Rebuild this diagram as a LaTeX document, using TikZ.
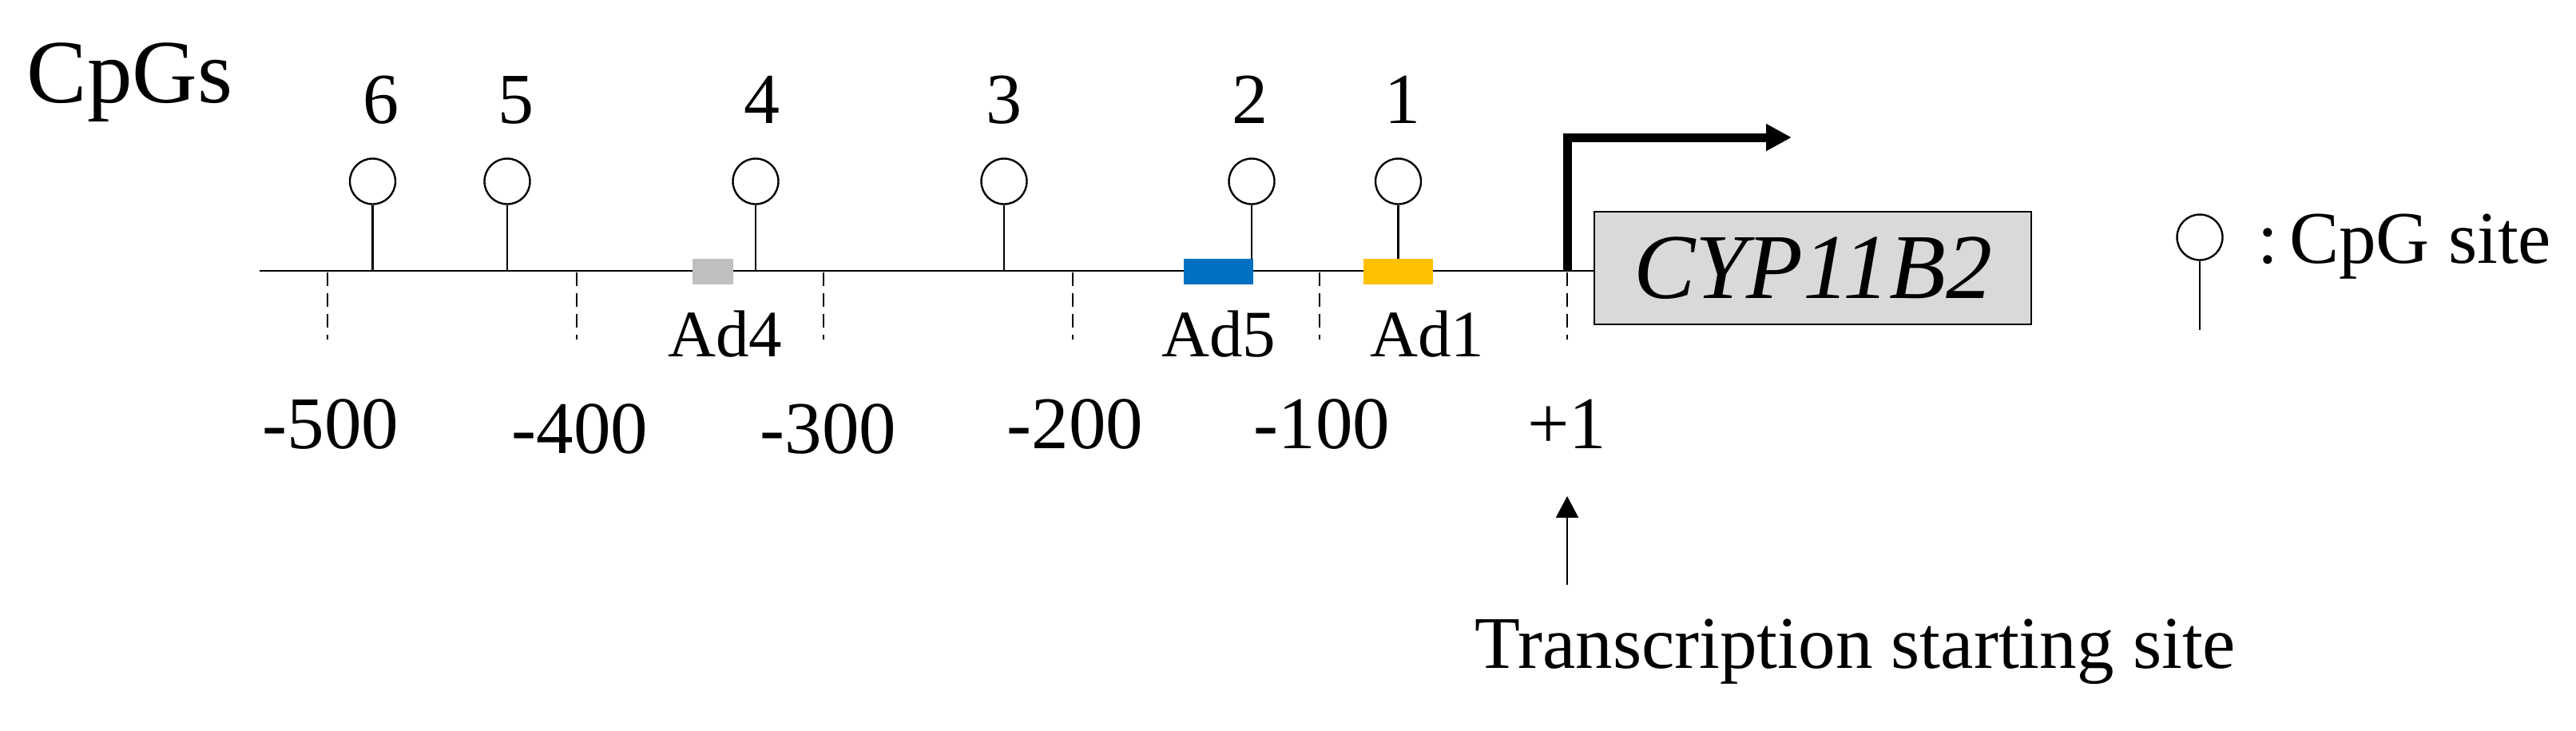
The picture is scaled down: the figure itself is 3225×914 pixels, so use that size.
\documentclass[tikz,border=0pt]{standalone}
\usepackage{fontspec}
\setmainfont{Liberation Serif}
\usetikzlibrary{arrows.meta}
\definecolor{adgray}{HTML}{BFBFBF}
\definecolor{adblue}{HTML}{0070C0}
\definecolor{adyellow}{HTML}{FFC000}
\definecolor{genegray}{HTML}{D9D9D9}
\begin{document}
\begin{tikzpicture}[x=0.25pt,y=-0.25pt,
  thinline/.style={line width=0.6pt},
  cpg/.style={circle, draw, line width=0.6pt, minimum size=14.25pt, inner sep=0pt},
  num/.style={font=\fontsize{22.5}{24}\selectfont, anchor=base, inner sep=0pt},
  poslabel/.style={font=\fontsize{23.25}{25}\selectfont, anchor=base, inner sep=0pt},
  adlab/.style={font=\fontsize{20.75}{22}\selectfont, anchor=base, inner sep=0pt},
  tickline/.style={line width=0.62pt, dash pattern=on 4.25pt off 2.25pt},
  adbox/.style={rectangle, inner sep=0pt, minimum height=8pt},
  txt/.style={font=\fontsize{23.25}{25}\selectfont, inner sep=0pt}]
\useasboundingbox (0,0) rectangle (3225,914);

% title
\node[anchor=base west, inner sep=0pt, font=\fontsize{28.25}{30}\selectfont] (cpgs) at (33,128) {CpGs};

% gene box
\node[draw, line width=0.65pt, fill=genegray, minimum width=136.75pt, minimum height=35.25pt, inner sep=0pt,
      font=\fontsize{29}{31}\selectfont\itshape] (gene) at (2269.5,335.5) {CYP11B2};

% main line
\coordinate (lstart) at (325,339);
\draw[line width=0.68pt] (lstart) -- (gene.west |- lstart);

% dashed ticks
\foreach \n/\x in {t5/410, t4/722, t3/1031, t2/1343, t1/1652, t0/1962} {
  \coordinate (\n a) at (\x,341);
  \coordinate (\n b) at (\x,425);
  \draw[tickline] (\n a) -- (\n b);
}

% CpG lollipops
\foreach \n/\x/\nx in {6/466.5/477, 5/635/646, 4/946/954, 3/1257/1257, 2/1567/1565, 1/1750.5/1756} {
  \node[cpg] (c\n) at (\x,227) {};
  \coordinate (s\n) at (\x,339);
  \draw[thinline] (c\n.south) -- (s\n);
  \node[num] (n\n) at (\nx,154.5) {\n};
}

% Ad boxes
\node[adbox, fill=adgray, minimum width=12.75pt] (ad4) at (892.5,339.5) {};
\node[adbox, fill=adblue, minimum width=21.65pt] (ad5) at (1525.3,339.5) {};
\node[adbox, fill=adyellow, minimum width=21.75pt] (ad1) at (1750.5,339.5) {};
\node[adlab] (lad4) at (908,446) {Ad4};
\node[adlab] (lad5) at (1526,446) {Ad5};
\node[adlab] (lad1) at (1787,446) {Ad1};

% position labels
\node[poslabel] (p500) at (414,561) {-500};
\node[poslabel] (p400) at (726,567) {-400};
\node[poslabel] (p300) at (1037,567) {-300};
\node[poslabel] (p200) at (1346,561) {-200};
\node[poslabel] (p100) at (1655,561) {-100};
\node[poslabel] (p1) at (1962,561) {+1};

% promoter arrow
\coordinate (pb) at (1962,339);
\coordinate (pt) at (2243,172);
\draw[line width=2.75pt, line join=miter, -{Triangle[length=8pt,width=8pt]}] (pb) |- (pt);

% legend
\node[cpg] (legc) at (2754,297) {};
\coordinate (legs) at (2754,413);
\draw[thinline] (legc.south) -- (legs);
\node[txt, anchor=base west] (legt) at (2825.5,329) {:\kern3.5pt CpG site};

% transcription starting site
\coordinate (tssb) at (1962,732);
\coordinate (tsst) at (1962,621);
\draw[thinline, -{Triangle[length=6.75pt,width=7pt]}] (tssb) -- (tsst);
\node[txt, anchor=base west] (tss) at (1846,836.5) {Transcription starting site};
\end{tikzpicture}
\end{document}
